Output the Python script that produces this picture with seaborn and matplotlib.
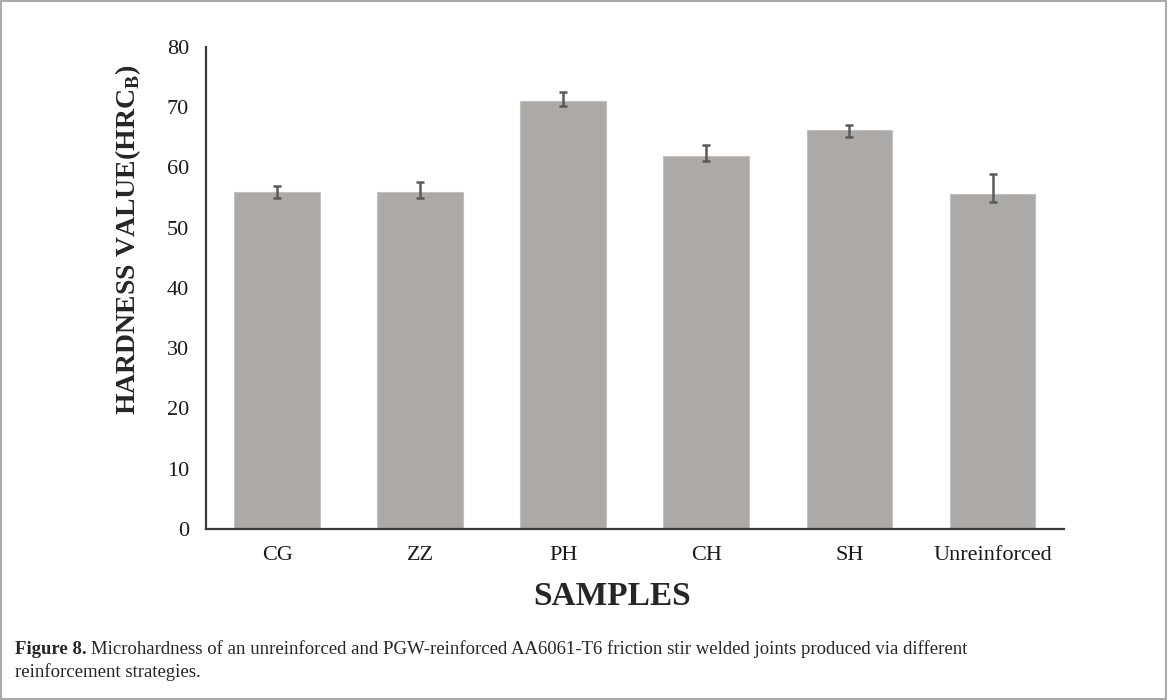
import matplotlib
matplotlib.use("Agg")
import matplotlib.pyplot as plt
from matplotlib.patches import Rectangle
import numpy as np
import pandas as pd
import seaborn as sns

# datos
muestras = ["CG", "ZZ", "PH", "CH", "SH", "Unreinforced"]
dureza = [56.0, 56.0, 71.0, 61.9, 66.2, 55.6]
err_abajo = [1.1, 1.1, 0.85, 0.8, 1.1, 1.25]
err_arriba = [1.0, 1.6, 1.45, 1.85, 0.9, 3.4]
yticks = [0, 10, 20, 30, 40, 50, 60, 70, 80]

df = pd.DataFrame({"muestra": muestras, "dureza": dureza})

sns.set_theme(style="white")
plt.rcParams["font.family"] = ["Liberation Serif", "DejaVu Serif"]
plt.rcParams["mathtext.fontset"] = "custom"
plt.rcParams["mathtext.rm"] = "Liberation Serif"
plt.rcParams["mathtext.bf"] = "Liberation Serif:bold"

fig = plt.figure(figsize=(11.68, 7.0), dpi=100)
ax = fig.add_axes([0.176, 0.2443, 0.735, 0.6886])

sns.barplot(data=df, x="muestra", y="dureza", color="#ADA9A7", width=0.6,
            errorbar=None, saturation=1, edgecolor="#C4C0BE", linewidth=0.8, ax=ax)
ax.errorbar(np.arange(len(muestras)), dureza, yerr=[err_abajo, err_arriba],
            fmt="none", ecolor="#5A5A5A", elinewidth=1.8, capsize=3.2, capthick=1.8)

ax.set_ylim(0, 80)
ax.set_yticks(yticks)
ax.set_xlim(-0.5, len(muestras) - 0.5)
ax.tick_params(axis="y", labelsize=16, length=0, pad=12, colors="#1a1a1a")
ax.tick_params(axis="x", labelsize=16, length=0, pad=12, colors="#1a1a1a")

for s in ["top", "right"]:
    ax.spines[s].set_visible(False)
for s in ["left", "bottom"]:
    ax.spines[s].set_color("#3a3a3a")
    ax.spines[s].set_linewidth(1.6)

ax.set_xlabel("SAMPLES", fontsize=24, fontweight="bold")
ax.xaxis.set_label_coords(0.473, -0.141)
ax.xaxis.label.set_va("center")
ax.set_ylabel(r"HARDNESS VALUE(HRC$_{\mathbf{B}}$)", fontsize=20, fontweight="bold")
ax.yaxis.set_label_coords(-0.09, 0.6)
ax.yaxis.label.set_va("center")

# pie de figura
t1 = fig.text(15 / 1168, 1 - 658 / 700, "Figure 8.", fontsize=13.5, fontweight="bold", va="bottom")
ax.annotate("Microhardness of an unreinforced and PGW-reinforced AA6061-T6 friction stir welded joints produced via different",
            xy=(1, 0), xycoords=t1, xytext=(3, 0), textcoords="offset points",
            fontsize=13.5, va="bottom", ha="left", annotation_clip=False)
fig.text(15 / 1168, 1 - 681 / 700, "reinforcement strategies.", fontsize=13.5, va="bottom")

# marco gris
fig.add_artist(Rectangle((0.001, 0.001), 0.997, 0.997, transform=fig.transFigure,
                         fill=False, edgecolor="#9a9a9a", linewidth=1.2))

fig.savefig("out.png", dpi=100)
